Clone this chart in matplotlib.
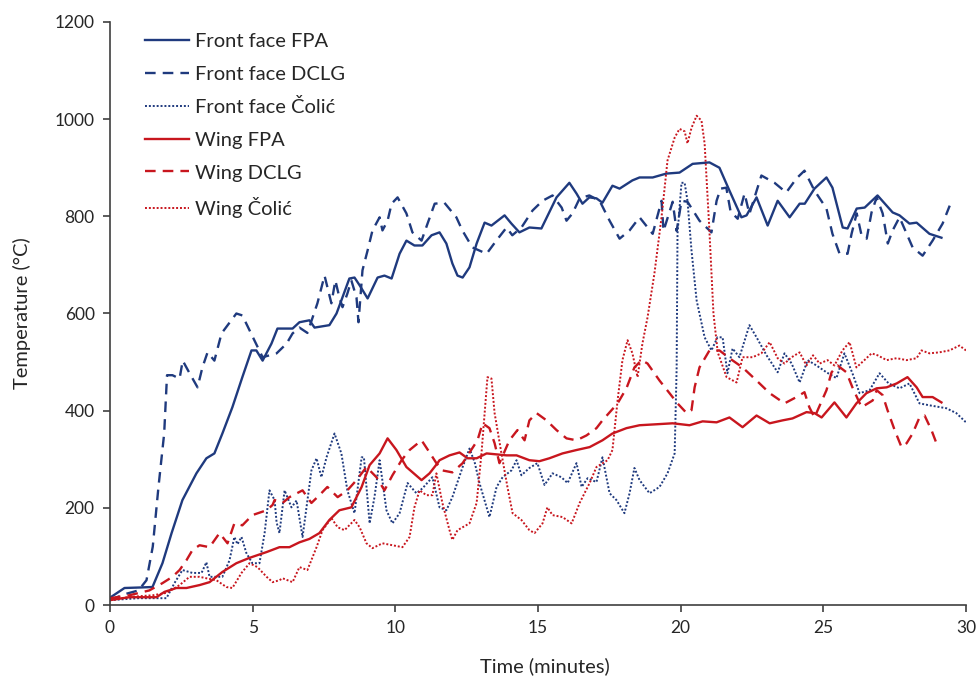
import matplotlib
matplotlib.use("Agg")
import matplotlib.pyplot as plt

plt.rcParams["font.family"] = ["Lato", "DejaVu Sans"]

# Front face, FPA model
ff_fpa_t = [0, 0.51, 1.03, 1.49, 1.84, 2.16, 2.54, 3.03, 3.38, 3.66, 3.94, 4.29, 4.64, 4.96,
            5.13, 5.35, 5.66, 5.87, 6.4, 6.64, 6.99, 7.17, 7.69, 7.94, 8.11, 8.39, 8.57, 8.75,
            9.03, 9.38, 9.62, 9.87, 10.15, 10.39, 10.67, 10.95, 11.27, 11.55, 11.79, 12.0,
            12.18, 12.36, 12.6, 12.85, 13.13, 13.37, 13.83, 14.07, 14.35, 14.7, 15.12, 15.65,
            16.1, 16.35, 16.56, 16.8, 17.05, 17.26, 17.61, 17.86, 18.31, 18.56, 19.02, 19.5,
            19.96, 20.42, 21.01, 21.36, 21.71, 22.13, 22.31, 22.66, 23.05, 23.4, 23.82, 24.17,
            24.35, 24.69, 25.11, 25.32, 25.68, 25.85, 26.17, 26.45, 26.9, 27.43, 27.67, 28.02,
            28.27, 28.72, 29.14]
ff_fpa_T = [15, 35, 36, 37, 86, 148, 216, 271, 302, 312, 353, 407, 469, 524,
            524, 503, 538, 569, 569, 582, 586, 571, 576, 600, 627, 672, 674, 658,
            631, 674, 678, 672, 723, 750, 740, 740, 761, 767, 744, 703,
            678, 674, 695, 744, 787, 781, 802, 785, 767, 777, 775, 839,
            869, 847, 826, 839, 837, 828, 863, 857, 874, 880, 880, 888,
            890, 908, 911, 900, 853, 798, 802, 839, 781, 832, 798, 826,
            826, 857, 880, 859, 777, 775, 816, 818, 843, 808, 802, 785,
            787, 764, 756]

# Front face, DCLG model
ff_dclg_t = [0, 0.5, 1.0, 1.28, 1.5, 1.7, 1.9, 2.0, 2.19, 2.44, 2.55, 2.79, 3.07, 3.24, 3.42,
             3.66, 3.91, 4.43, 4.64, 5.06, 5.35, 5.84, 6.19, 6.4, 6.64, 6.92, 7.27, 7.52, 7.76,
             7.9, 8.04, 8.15, 8.32, 8.46, 8.64, 8.71, 8.85, 9.03, 9.2, 9.45, 9.55, 9.73, 9.87,
             10.08, 10.39, 10.6, 10.92, 11.13, 11.38, 11.72, 12.14, 12.35, 12.7, 13.2, 13.54,
             13.9, 14.1, 14.42, 14.81, 15.16, 15.51, 15.83, 16.0, 16.21, 16.46, 16.8, 17.16,
             17.51, 17.86, 18.21, 18.56, 19.02, 19.33, 19.4, 19.72, 19.86, 20.03, 20.24, 20.66,
             21.08, 21.26, 21.4, 21.6, 21.75, 22.0, 22.24, 22.41, 22.59, 22.83, 23.29, 23.7,
             24.06, 24.34, 24.69, 25.11, 25.32, 25.57, 25.85, 25.99, 26.17, 26.34, 26.52,
             26.69, 26.87, 27.08, 27.26, 27.43, 27.67, 28.13, 28.48, 28.83, 29.18, 29.43]
ff_dclg_T = [10, 22, 30, 51, 120, 243, 353, 473, 473, 466, 503, 477, 448, 489, 520,
             503, 559, 600, 596, 545, 510, 518, 538, 559, 571, 560, 621, 678, 621,
             668, 633, 613, 641, 668, 633, 582, 689, 730, 771, 798, 771, 791, 826,
             839, 806, 767, 750, 785, 826, 828, 798, 771, 736, 723, 750,
             777, 761, 777, 812, 832, 843, 818, 791, 806, 837, 843, 832,
             791, 754, 771, 798, 764, 832, 770, 830, 770, 832, 830, 791,
             767, 832, 857, 859, 810, 795, 847, 805, 839, 884, 869, 849,
             878, 894, 853, 816, 764, 723, 723, 764, 806, 761, 754,
             808, 839, 806, 744, 771, 798, 736, 719, 750, 785, 822]

# Front face, Čolić model
ff_colic_t = [0, 0.5, 1.0, 1.5, 1.98, 2.26, 2.54, 2.89, 3.21, 3.38, 3.49, 3.94, 4.19, 4.36,
              4.47, 4.61, 4.78, 4.99, 5.24, 5.42, 5.59, 5.77, 5.84, 5.94, 6.12, 6.36, 6.54,
              6.75, 7.06, 7.24, 7.41, 7.59, 7.87, 8.11, 8.32, 8.57, 8.82, 8.9, 9.1, 9.27, 9.45,
              9.69, 9.9, 10.15, 10.43, 10.74, 10.95, 11.3, 11.55, 11.79, 12.0, 12.36, 12.6,
              12.78, 12.95, 13.3, 13.55, 13.76, 14.07, 14.25, 14.42, 14.7, 14.98, 15.23, 15.51,
              15.82, 16.04, 16.35, 16.53, 16.74, 17.05, 17.26, 17.51, 17.75, 18.03, 18.21,
              18.38, 18.56, 18.91, 19.26, 19.54, 19.79, 19.86, 19.89, 20.03, 20.14, 20.24,
              20.38, 20.56, 20.84, 21.08, 21.29, 21.47, 21.64, 21.82, 22.06, 22.41, 22.66,
              23.01, 23.4, 23.64, 23.89, 24.17, 24.45, 24.76, 25.11, 25.46, 25.74, 26.02,
              26.27, 26.62, 26.97, 27.29, 27.67, 28.02, 28.37, 28.72, 29.31, 29.66, 30.0]
ff_colic_T = [10, 12, 14, 14, 14, 45, 72, 66, 66, 88, 58, 58, 92, 140,
              125, 140, 107, 86, 86, 148, 236, 216, 170, 148, 236, 201, 215,
              140, 277, 302, 263, 304, 353, 312, 236, 189, 304, 304, 168, 222, 298,
              195, 168, 189, 251, 230, 240, 263, 201, 195, 222, 284, 322,
              294, 251, 181, 243, 263, 277, 298, 267, 282, 292, 247, 271,
              263, 251, 292, 243, 261, 253, 304, 230, 216, 189, 230,
              282, 257, 230, 243, 271, 312, 489, 764, 869, 869, 832,
              730, 627, 551, 524, 551, 551, 477, 528, 510, 576, 551,
              514, 479, 518, 497, 458, 504, 493, 479, 467, 518, 477,
              436, 442, 477, 456, 446, 456, 415, 411, 405, 395, 376]

# Wing, FPA model
w_fpa_t = [0, 0.68, 1.63, 1.91, 2.33, 2.68, 3.14, 3.49, 3.94, 4.43, 4.89, 5.49, 5.94, 6.29,
           6.64, 6.99, 7.34, 7.69, 8.04, 8.46, 8.82, 9.1, 9.45, 9.73, 10.04, 10.39, 10.92,
           11.2, 11.48, 11.55, 11.9, 12.25, 12.53, 12.85, 13.2, 13.55, 13.9, 14.25, 14.7,
           15.05, 15.4, 15.86, 16.35, 16.81, 17.26, 17.61, 18.1, 18.56, 19.15, 19.72, 20.31,
           20.77, 21.26, 21.71, 22.17, 22.66, 23.12, 23.57, 23.92, 24.41, 24.69, 24.94,
           25.39, 25.81, 26.16, 26.51, 26.87, 27.22, 27.57, 27.95, 28.27, 28.48, 28.83, 29.14]
w_fpa_T = [10, 16, 16, 27, 35, 35, 41, 47, 68, 86, 97, 109, 119, 119,
           129, 136, 148, 175, 195, 201, 243, 288, 312, 343, 319, 284, 257,
           271, 292, 298, 308, 314, 302, 302, 312, 310, 308, 308, 298,
           296, 302, 312, 319, 325, 339, 353, 364, 370, 372, 374, 370,
           378, 376, 386, 366, 390, 374, 380, 384, 397, 395, 386,
           417, 386, 415, 436, 446, 448, 456, 469, 448, 428, 428, 417]

# Wing, DCLG model
w_dclg_t = [0, 0.68, 1.38, 1.84, 2.19, 2.44, 2.68, 2.89, 3.14, 3.49, 3.84, 4.12, 4.36, 4.64,
            4.99, 5.49, 5.7, 5.77, 6.05, 6.29, 6.75, 7.06, 7.34, 7.62, 7.98, 8.32, 8.64, 8.99,
            9.34, 9.62, 9.9, 10.22, 10.5, 10.92, 11.2, 11.44, 11.65, 12.0, 12.36, 12.88, 13.06,
            13.3, 13.48, 13.65, 14.0, 14.28, 14.53, 14.7, 14.95, 15.3, 15.65, 16.0, 16.35,
            16.7, 17.05, 17.26, 17.79, 18.1, 18.38, 18.63, 18.84, 19.26, 19.61, 19.89, 20.21,
            20.38, 20.49, 20.66, 21.01, 21.36, 21.71, 22.17, 22.66, 23.12, 23.64, 24.06,
            24.34, 24.51, 24.69, 25.11, 25.29, 25.5, 25.81, 26.02, 26.34, 26.73, 26.87,
            27.08, 27.25, 27.5, 27.74, 27.92, 28.13, 28.37, 28.55, 28.79, 28.99]
w_dclg_T = [14, 20, 30, 45, 58, 72, 92, 113, 123, 119, 148, 127, 168, 164,
            185, 195, 206, 216, 210, 222, 236, 210, 226, 243, 222, 236, 257, 284,
            263, 236, 267, 298, 319, 339, 314, 292, 277, 273, 292, 339, 374,
            364, 333, 292, 339, 360, 339, 380, 395, 380, 360, 343, 339,
            349, 364, 380, 415, 446, 489, 504, 497, 462, 436, 415, 395,
            401, 448, 489, 524, 524, 508, 489, 462, 436, 415, 428,
            438, 407, 386, 442, 479, 493, 479, 448, 407, 421, 442,
            432, 401, 360, 325, 333, 353, 386, 390, 360, 329]

# Wing, Čolić model
w_colic_t = [0, 0.5, 1.0, 1.5, 1.98, 2.44, 2.79, 3.14, 3.38, 3.73, 4.08, 4.29, 4.61, 4.89,
             5.17, 5.49, 5.7, 5.94, 6.05, 6.4, 6.64, 6.92, 7.24, 7.45, 7.76, 7.98, 8.22, 8.57,
             8.75, 8.99, 9.2, 9.55, 9.9, 10.25, 10.5, 10.67, 10.85, 11.09, 11.3, 11.44, 11.65,
             11.9, 12.0, 12.18, 12.6, 12.85, 13.02, 13.23, 13.37, 13.48, 13.72, 13.93, 14.11,
             14.42, 14.7, 14.88, 15.16, 15.33, 15.51, 15.86, 16.18, 16.46, 16.81, 17.05, 17.44,
             17.61, 17.79, 17.96, 18.14, 18.31, 18.49, 18.66, 18.84, 19.08, 19.33, 19.54,
             19.79, 19.96, 20.14, 20.24, 20.38, 20.56, 20.73, 20.84, 21.0, 21.15, 21.3, 21.61,
             21.96, 22.17, 22.52, 22.83, 23.12, 23.4, 23.64, 23.89, 24.17, 24.41, 24.64,
             24.87, 25.15, 25.39, 25.67, 25.92, 26.16, 26.44, 26.69, 26.9, 27.22, 27.57,
             27.92, 28.27, 28.44, 28.72, 29.06, 29.42, 29.77, 30.0]
w_colic_T = [10, 15, 18, 20, 25, 41, 58, 58, 55, 51, 37, 35, 66, 86,
             78, 58, 47, 51, 55, 47, 78, 72, 119, 154, 179, 160, 154, 175,
             160, 127, 117, 127, 123, 119, 140, 201, 236, 226, 226, 271, 210,
             154, 134, 154, 168, 210, 312, 469, 466, 395, 312, 243, 189,
             175, 154, 148, 168, 201, 185, 181, 168, 210, 251, 284, 298,
             319, 421, 504, 545, 518, 469, 538, 592, 682, 798, 915,
             962, 980, 975, 950, 982, 1007, 997, 950, 780, 600, 520, 469,
             458, 510, 510, 518, 541, 508, 497, 510, 520, 493, 514,
             497, 504, 493, 524, 541, 489, 504, 518, 514, 504, 508,
             504, 508, 524, 518, 520, 524, 534, 524]

blue = "#1f3a7e"
red = "#c8161e"

fig, ax = plt.subplots(figsize=(9.8, 6.81), dpi=100)
fig.subplots_adjust(left=0.1122, right=0.9857, bottom=0.1116, top=0.9677)

ax.plot(ff_fpa_t, ff_fpa_T, color=blue, lw=1.7, label="Front face FPA")
ax.plot(ff_dclg_t, ff_dclg_T, color=blue, lw=1.7, dashes=(4.5, 3), label="Front face DCLG")
ax.plot(ff_colic_t, ff_colic_T, color=blue, lw=1.4, dashes=(1, 1), label="Front face Čolić")
ax.plot(w_fpa_t, w_fpa_T, color=red, lw=1.7, label="Wing FPA")
ax.plot(w_dclg_t, w_dclg_T, color=red, lw=1.7, dashes=(4.5, 3), label="Wing DCLG")
ax.plot(w_colic_t, w_colic_T, color=red, lw=1.4, dashes=(1, 1), label="Wing Čolić")

ax.set_xlim(0, 30)
ax.set_ylim(0, 1200)
ax.set_xticks(range(0, 31, 5))
ax.set_yticks(range(0, 1201, 200))
ax.set_xlabel("Time (minutes)", fontsize=14.5, color="#262626")
ax.set_ylabel("Temperature (°C)", fontsize=14.5, color="#262626")
ax.xaxis.set_label_coords(0.508, -0.09)
ax.yaxis.set_label_coords(-0.092, 0.5)

for side in ("top", "right"):
    ax.spines[side].set_visible(False)
for side in ("left", "bottom"):
    ax.spines[side].set_color("#404040")
    ax.spines[side].set_linewidth(1.2)
ax.tick_params(axis="both", direction="out", length=5, width=1.2, color="#404040",
               labelsize=12.5, labelcolor="#262626", pad=6)

leg = ax.legend(loc="upper left", bbox_to_anchor=(0.02, 1.012), frameon=False, fontsize=14.5,
                handlelength=2.15, handletextpad=0.3, labelspacing=0.77)
for txt in leg.get_texts():
    txt.set_color("#262626")

fig.savefig("out.png", dpi=100)
